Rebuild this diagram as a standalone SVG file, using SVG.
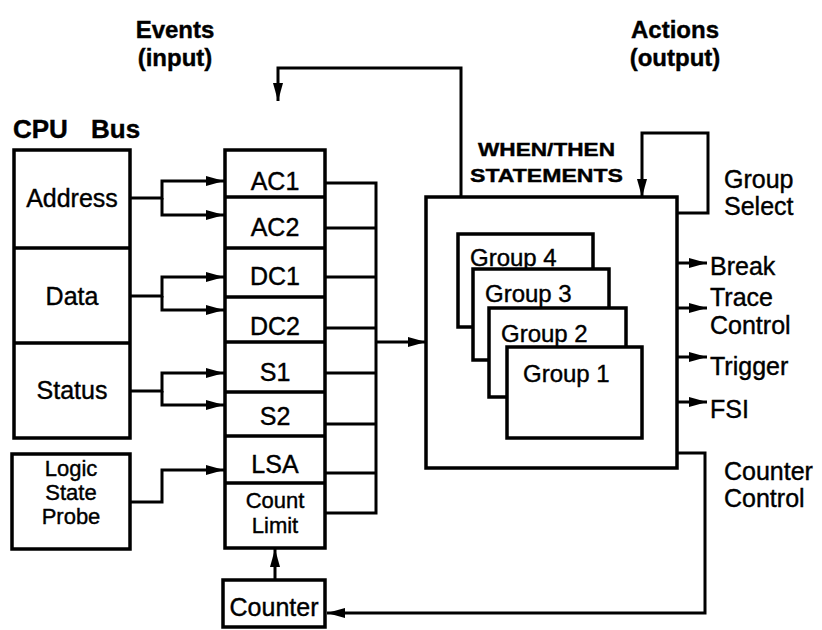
<svg xmlns="http://www.w3.org/2000/svg" width="822" height="630" viewBox="0 0 822 630">
<style>
.box{fill:#fff;stroke:#000;stroke-width:3.5}
.ln{fill:none;stroke:#000;stroke-width:3}
.arr{fill:none;stroke:#000;stroke-width:3;marker-end:url(#ah)}
text{font-family:"Liberation Sans",Arial,sans-serif;font-size:25px;fill:#000;stroke:#000;stroke-width:0.4}
.c{text-anchor:middle}
.b{font-weight:bold;font-size:24px}
.s{font-weight:bold;font-size:19px}
</style>
<defs>
<marker id="ah" markerWidth="18" markerHeight="12" refX="18" refY="6" orient="auto" markerUnits="userSpaceOnUse"><path d="M0,1 L18,6 L0,11 Z" fill="#000"/></marker>
</defs>
<rect width="822" height="630" fill="#fff"/>
<g id="titles">
<text class="b c" x="175" y="38">Events</text>
<text class="b c" x="175" y="66">(input)</text>
<text class="b c" x="675" y="38">Actions</text>
<text class="b c" x="675" y="66">(output)</text>
<text class="b" x="13" y="138" style="font-size:26px">CPU</text>
<text class="b" x="91" y="138" style="font-size:26px">Bus</text>
<text class="s" x="478" y="156" textLength="137" lengthAdjust="spacingAndGlyphs">WHEN/THEN</text>
<text class="s" x="470" y="182" textLength="153" lengthAdjust="spacingAndGlyphs">STATEMENTS</text>
</g>
<g id="connectors">
<path class="arr" d="M130,198 H162 V181 H224"/>
<path class="arr" d="M162,198 V215 H224"/>
<path class="arr" d="M130,296 H162 V277 H224"/>
<path class="arr" d="M162,296 V310 H224"/>
<path class="arr" d="M130,391 H162 V373 H224"/>
<path class="arr" d="M162,391 V405 H224"/>
<path class="arr" d="M130,502 H162 V470 H224"/>
<path class="ln" d="M325,183 H376 V513 H325 M325,228 H376 M325,277 H376 M325,328 H376 M325,373 H376 M325,424 H376 M325,473 H376"/>
<path class="arr" d="M376,342 H426"/>
<path class="arr" d="M275,580 V549"/>
<path class="arr" d="M677,453 H705 V613 H327"/>
<path class="arr" d="M461,197 V68 H278 V101"/>
<path class="arr" d="M677,213 H708 V133 H642 V197"/>
<path class="arr" d="M677,263 H707"/>
<path class="arr" d="M677,308 H707"/>
<path class="arr" d="M677,357 H707"/>
<path class="arr" d="M677,402 H707"/>
</g>
<g id="cpu-bus">
<rect class="box" x="14" y="150" width="116" height="288"/>
<path class="ln" d="M14,248 H130 M14,343 H130" style="stroke-width:3.5"/>
<text class="c" x="72" y="207">Address</text>
<text class="c" x="72" y="305">Data</text>
<text class="c" x="72" y="399">Status</text>
</g>
<g id="logic-state-probe">
<rect class="box" x="12" y="454" width="118" height="95"/>
<text class="c" x="71" y="476" style="font-size:22px">Logic</text>
<text class="c" x="71" y="500" style="font-size:22px">State</text>
<text class="c" x="71" y="524" style="font-size:22px">Probe</text>
</g>
<g id="events">
<rect class="box" x="225" y="150" width="100" height="398"/>
<path class="ln" d="M225,197 H325 M225,248 H325 M225,297 H325 M225,342 H325 M225,392 H325 M225,436 H325 M225,483 H325" style="stroke-width:3.5"/>
<text class="c" x="275" y="190">AC1</text>
<text class="c" x="275" y="236">AC2</text>
<text class="c" x="275" y="285">DC1</text>
<text class="c" x="275" y="335">DC2</text>
<text class="c" x="275" y="381">S1</text>
<text class="c" x="275" y="425">S2</text>
<text class="c" x="275" y="473">LSA</text>
<text class="c" x="275" y="508" style="font-size:22px">Count</text>
<text class="c" x="275" y="533" style="font-size:22px">Limit</text>
</g>
<g id="counter">
<rect class="box" x="223" y="580" width="102" height="47"/>
<text class="c" x="274" y="616">Counter</text>
</g>
<g id="when-then">
<rect class="box" x="426" y="197" width="251" height="271"/>
</g>
<g id="group4"><rect class="box" x="458" y="234" width="135" height="93"/><text x="470" y="266" style="font-size:24px">Group 4</text></g>
<g id="group3"><rect class="box" x="473" y="269" width="136" height="91"/><text x="485" y="302" style="font-size:24px">Group 3</text></g>
<g id="group2"><rect class="box" x="489" y="308" width="137" height="89"/><text x="501" y="342" style="font-size:24px">Group 2</text></g>
<g id="group1"><rect class="box" x="507" y="347" width="135" height="91"/><text x="523" y="382" style="font-size:24px">Group 1</text></g>
<g id="outputs">
<text x="724" y="188">Group</text>
<text x="724" y="215">Select</text>
<text x="710" y="275">Break</text>
<text x="710" y="306">Trace</text>
<text x="710" y="334">Control</text>
<text x="710" y="375">Trigger</text>
<text x="710" y="418">FSI</text>
<text x="724" y="480">Counter</text>
<text x="724" y="507">Control</text>
</g>
</svg>
